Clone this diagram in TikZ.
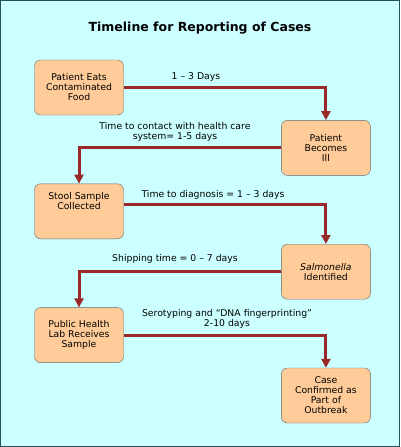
\documentclass[tikz,border=0pt]{standalone}
\usepackage{fontspec}
\setmainfont{DejaVu Sans}
\usepackage{xcolor}
\usepackage{tikz}
\usetikzlibrary{arrows.meta,positioning,calc}
\definecolor{paleaqua}{RGB}{204,255,255}
\definecolor{peach}{RGB}{255,204,153}
\definecolor{rustred}{RGB}{153,40,40}
\definecolor{frameteal}{RGB}{40,80,80}

\begin{document}
\begin{tikzpicture}[x=1pt, y=-1pt, every node/.style={font=\fontsize{9.3}{10}\selectfont},
    stage/.style={draw=gray!80!black, rounded corners=6pt, fill=peach, minimum width=89pt, minimum height=55pt, align=center, inner sep=2pt},
    note/.style={align=center, inner sep=1pt},
    flow/.style={-{Triangle[length=9pt, width=9pt]}, rustred, line width=3pt}]
    \fill[paleaqua] (0,0) rectangle (400,447);
    \draw[frameteal, line width=1pt] (0.5,0.5) rectangle (399.5,446.5);
    \node[font=\bfseries\fontsize{12.5}{14}\selectfont] (title) at (200,28) {Timeline for Reporting of Cases};
    \node[stage] (eats) at (79,87.5) {Patient Eats\\Contaminated\\Food};
    \node[stage, below right=5pt and 157.5pt of eats] (ill) {Patient\\Becomes\\Ill};
    \node[stage, below left=8pt and 157.5pt of ill] (stool) {Stool Sample\\Collected\\[10pt]};
    \node[stage, below right=5pt and 157.5pt of stool] (salm) {\textit{Salmonella}\\Identified};
    \node[stage, below left=8pt and 157.5pt of salm] (lab) {Public Health\\Lab Receives\\Sample};
    \node[stage, below right=5pt and 157.5pt of lab] (case) {Case\\Confirmed as\\Part of\\Outbreak};
    \node[note] (t1) at (196,77) {1 – 3 Days};
    \node[note] (t2) at (175,132) {Time to contact with health care\\system= 1-5 days};
    \node[note] (t3) at (213,195) {Time to diagnosis = 1 – 3 days};
    \node[note] (t4) at (175,259) {Shipping time = 0 – 7 days};
    \node[note] (t5) at (227,319) {Serotyping and “DNA fingerprinting”\\2-10 days};
    \draw[flow] (eats.east) -| (ill.north);
    \draw[flow] (ill.west) -| (stool.north);
    \draw[flow] ([yshift=6.5pt]stool.east) -| (salm.north);
    \draw[flow] (salm.west) -| (lab.north);
    \draw[flow] (lab.east) -| (case.north);
\end{tikzpicture}
\end{document}
